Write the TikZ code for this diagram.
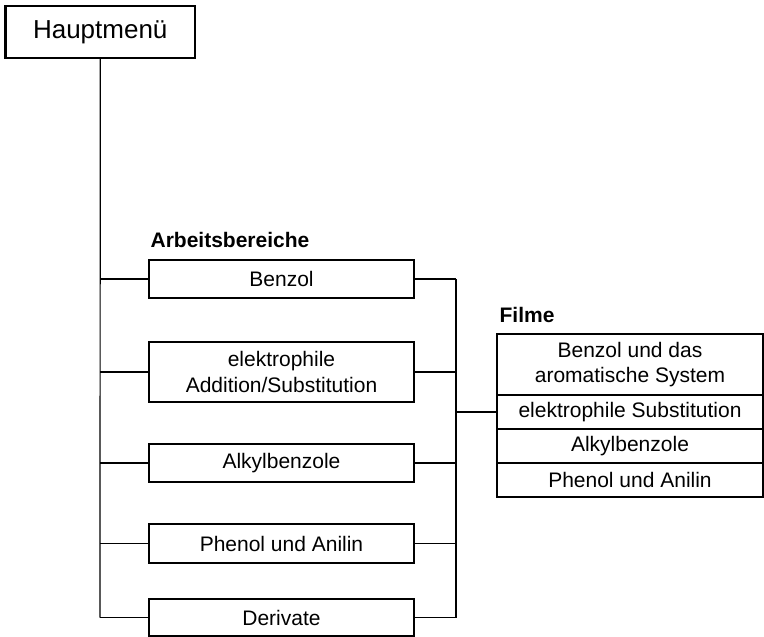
\documentclass[tikz,border=0pt]{standalone}
\usepackage{fontspec}
\setmainfont{Liberation Sans}
\begin{document}
\begin{tikzpicture}[x=1pt,y=-1pt,
  line width=1.2pt,
  mainbox/.style={draw, line width=2.4pt, minimum width=189.5pt, minimum height=52pt, inner sep=0pt, font=\fontsize{26}{31}\selectfont},
  areabox/.style={draw, minimum width=265pt, inner sep=0pt, align=center, font=\fontsize{21}{26.5}\selectfont},
  filmbox/.style={draw, minimum width=266pt, inner sep=0pt, align=center, font=\fontsize{21}{25}\selectfont},
  heading/.style={anchor=base west, inner sep=0pt, font=\bfseries\fontsize{21}{25}\selectfont}]
\useasboundingbox (0,0) rectangle (764,637);

\node[mainbox] (haupt) at (100.25,32) {Hauptmenü};

\node[heading] (arbl) at (150,247) {Arbeitsbereiche};
\node[areabox, minimum height=38pt] (benzol) at (281.5,279) {Benzol};
\node[areabox, minimum height=60pt] (elektro) at (281.5,372) {elektrophile\\Addition/Substitution};
\node[areabox, minimum height=38pt] (alkyl) at (281.5,463) {Alkylbenzole};
\node[areabox, minimum height=39pt] (phenol) at (281.5,543.5) {Phenol und Anilin};
\node[areabox, minimum height=37pt] (deriv) at (281.5,617.5) {Derivate};

\node[heading] (filml) at (499,322) {Filme};
\node[filmbox, minimum height=61pt] (f1) at (630,364.5) {Benzol und das\\aromatische System};
\node[filmbox, minimum height=34pt] (f2) at (630,412) {elektrophile Substitution};
\node[filmbox, minimum height=34pt] (f3) at (630,446) {Alkylbenzole};
\node[filmbox, minimum height=34pt] (f4) at (630,480) {Phenol und Anilin};

\coordinate (lb) at (100,617.5);
\coordinate (rt) at (456,279);
\coordinate (rb) at (456,617.5);
\coordinate (rm) at (456,412);

\draw (haupt.south) -- (lb);
\foreach \n in {benzol,elektro,alkyl,phenol,deriv}{
  \draw (\n.west) -- (\n.west -| lb);
  \draw (\n.east) -- (\n.east -| rt);
}
\draw (rt) -- (rb);
\draw (rm) -- (f2.west);
\end{tikzpicture}
\end{document}
